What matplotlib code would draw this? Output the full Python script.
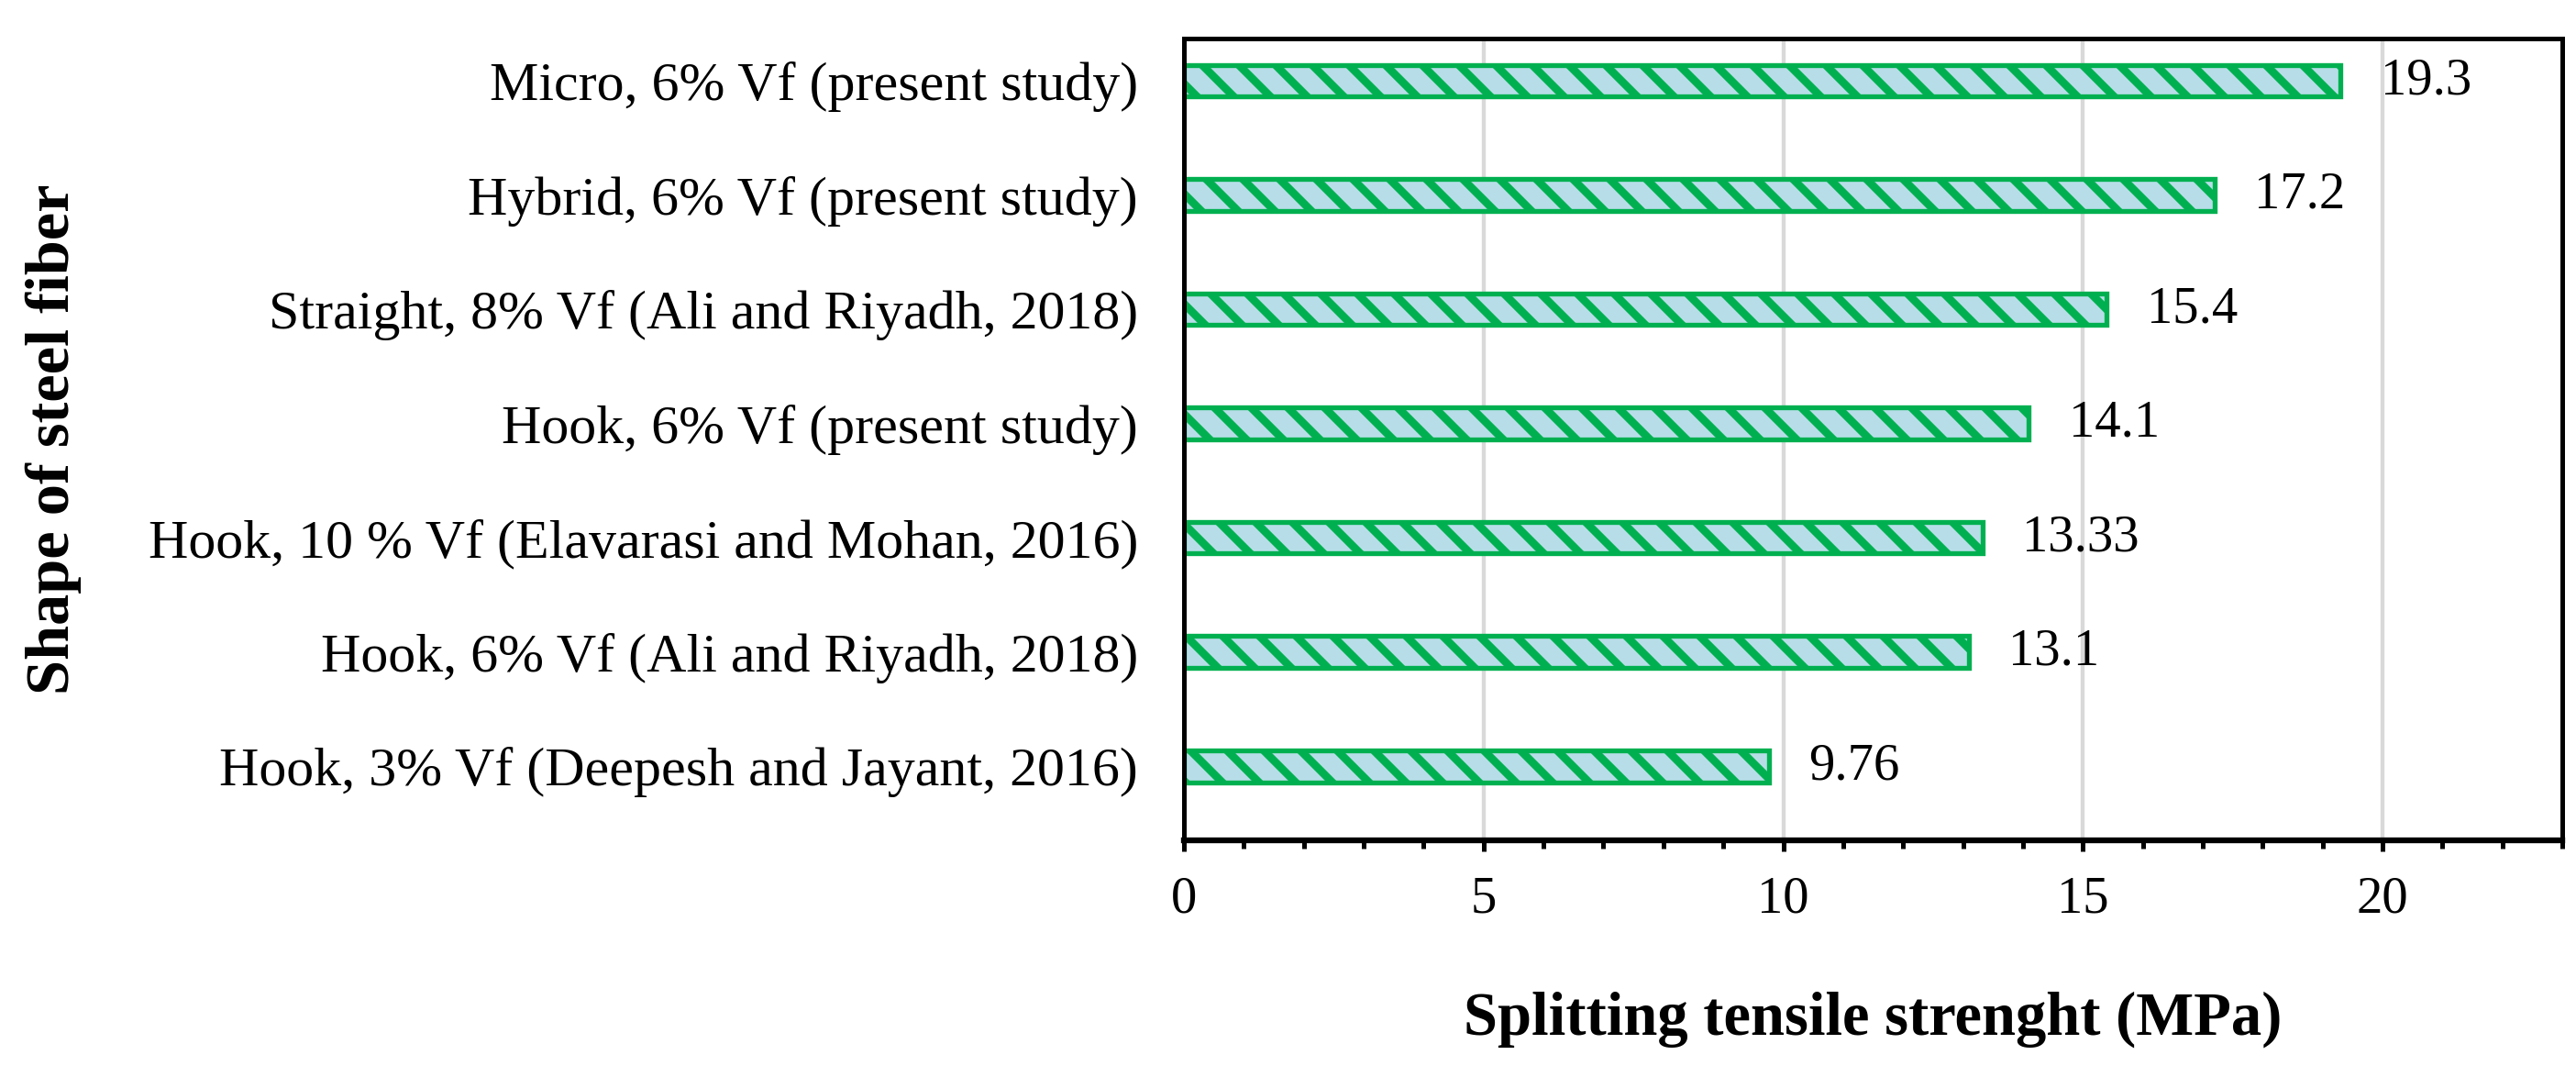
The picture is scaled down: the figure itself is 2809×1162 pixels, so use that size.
import matplotlib.pyplot as plt
from matplotlib.ticker import MultipleLocator

# data (bottom to top as drawn)
fiber_labels = [
    "Hook, 3% Vf (Deepesh and Jayant, 2016)",
    "Hook, 6% Vf (Ali and Riyadh, 2018)",
    "Hook, 10 % Vf (Elavarasi and Mohan, 2016)",
    "Hook, 6% Vf (present study)",
    "Straight, 8% Vf (Ali and Riyadh, 2018)",
    "Hybrid, 6% Vf (present study)",
    "Micro, 6% Vf (present study)",
]
strength = [9.76, 13.1, 13.33, 14.1, 15.4, 17.2, 19.3]
value_text = ["9.76", "13.1", "13.33", "14.1", "15.4", "17.2", "19.3"]

plt.rcParams['font.family'] = ['Liberation Serif', 'DejaVu Serif']
plt.rcParams['hatch.linewidth'] = 2.6

green = "#00B050"
light_blue = "#B7DEE8"

fig = plt.figure(figsize=(2809 / 240, 1162 / 240), dpi=240)
ax = fig.add_axes([0.4596, 0.2117, 0.9947 - 0.4596, 0.9639 - 0.2117])

ypos = list(range(len(strength)))
bars = ax.barh(ypos, strength, height=0.28, color=light_blue,
               edgecolor=green, linewidth=1.6, hatch="\\\\", zorder=2)

for b, txt in zip(bars, value_text):
    ax.annotate(txt, (b.get_width(), b.get_y() + b.get_height() / 2),
                xytext=(13, 0), textcoords="offset points",
                ha="left", va="center", fontsize=17)

ax.set_xlim(0, 23)
ax.set_ylim(-0.65, len(strength) - 1 + 0.37)
ax.xaxis.set_major_locator(MultipleLocator(5))
ax.xaxis.set_minor_locator(MultipleLocator(1))
ax.set_yticks(ypos)
ax.set_yticklabels(fiber_labels)

ax.tick_params(axis="x", which="major", length=3.6, width=1.5, labelsize=17, pad=8)
ax.tick_params(axis="x", which="minor", length=2.7, width=1.5)
ax.tick_params(axis="y", length=0, labelsize=18, pad=15)

ax.grid(axis="x", which="major", color="#D9D9D9", linewidth=1.3)
ax.set_axisbelow(True)

for side in ["top", "right", "left"]:
    ax.spines[side].set_linewidth(1.5)
ax.spines["bottom"].set_linewidth(1.9)

ax.set_xlabel("Splitting tensile strenght (MPa)", fontsize=20,
              fontweight="bold", labelpad=22)
ax.set_ylabel("Shape of steel fiber", fontsize=20.5, fontweight="bold")
ax.yaxis.set_label_coords(-0.80, 0.5)

fig.savefig("out.png", dpi=240)
